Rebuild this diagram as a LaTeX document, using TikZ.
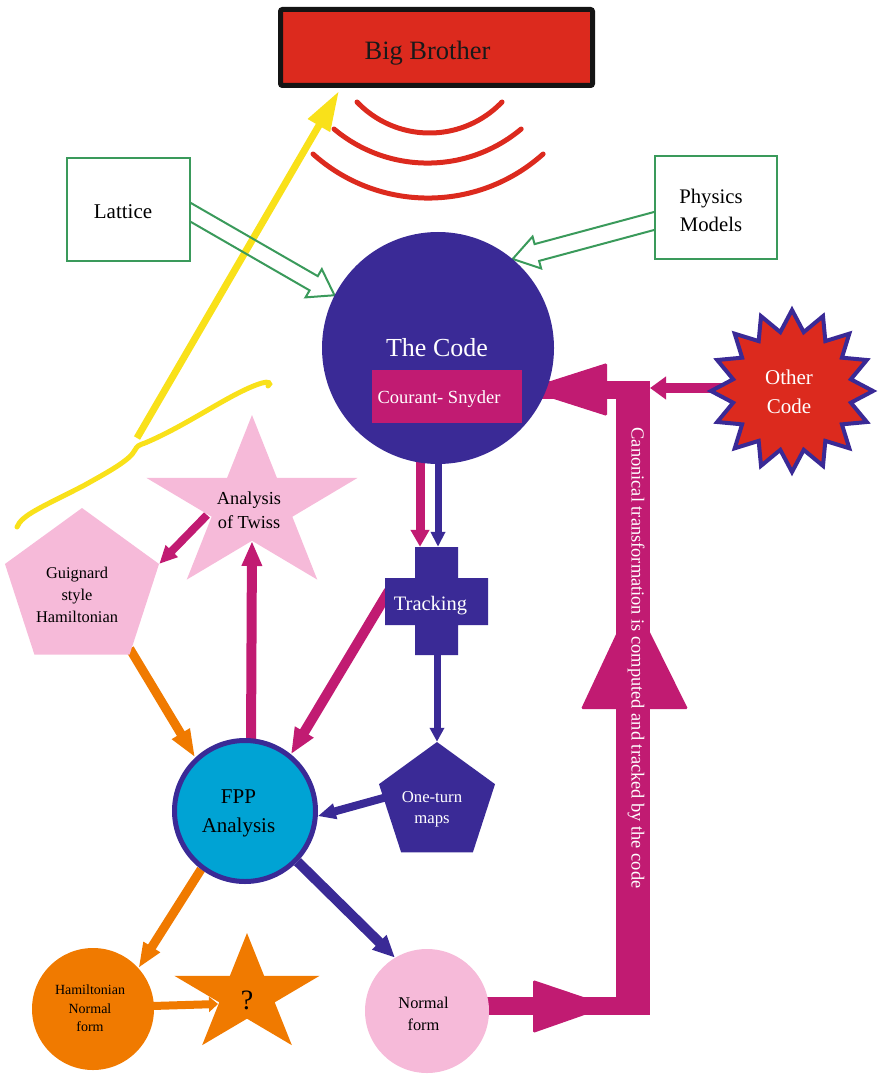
\documentclass[tikz,border=0pt]{standalone}
\usepackage{fontspec}
\setmainfont{Liberation Serif}
\usetikzlibrary{shapes.geometric, arrows.meta, calc}
\pgfdeclarelayer{bg}
\pgfsetlayers{bg,main}
\definecolor{bbred}{HTML}{DC2A1E}
\definecolor{ind}{HTML}{3A2A96}
\definecolor{mag}{HTML}{C11B72}
\definecolor{pinkc}{HTML}{F6BAD9}
\definecolor{orng}{HTML}{F07A00}
\definecolor{cyanc}{HTML}{00A3D4}
\definecolor{grn}{HTML}{3A9A5B}
\definecolor{yel}{HTML}{F9E11A}
\newcommand\fsz[2]{\fontsize{#1}{#2}\selectfont}
% hollow arrow: start, end, half width, head length, head half width
\newcommand\hollowarrow[5]{%
  \coordinate (habase) at ($(#2)!#4!(#1)$);
  \draw[hollow] ($(#1)!#3!90:(#2)$) -- ($(habase)!#3!-90:(#1)$) -- ($(habase)!#5!-90:(#1)$) -- (#2)
     -- ($(habase)!#5!90:(#1)$) -- ($(habase)!#3!90:(#1)$) -- ($(#1)!#3!-90:(#2)$) -- cycle;}
\begin{document}
\begin{tikzpicture}[x=1pt,y=-1pt,
  txt/.style={align=center, inner sep=0pt, outer sep=0pt, text=black},
  wtxt/.style={txt, text=white},
  gbox/.style={draw=grn, line width=2pt, fill=white, inner sep=0pt},
  hollow/.style={draw=grn, line width=2pt, line join=miter},
  arr/.style n args={4}{draw=#1, line width=#2, -{Triangle[length=#3, width=#4]}},
  pent/.style={regular polygon, regular polygon sides=5, inner sep=0pt},
  pstar/.style={star, star points=5, star point ratio=2.618, inner sep=0pt, transform shape},
  wave/.style={draw=bbred, line width=5pt, line cap=round},
  bighead/.style={fill=mag, rounded corners=1.5pt},
]
\useasboundingbox (0,0) rectangle (879,1075);

% ---------- nodes ----------
\node[draw=black!92, line width=5pt, fill=bbred, rounded corners=2pt, minimum width=312pt, minimum height=76pt, inner sep=0pt] (bb) at (436.5,47.5) {};
\node[txt, anchor=base, font=\fsz{26.5}{30}, text=black!90] (bbtxt) at (427.5,60) {Big Brother};

\node[gbox, minimum width=123pt, minimum height=103pt] (lat) at (128.5,209.5) {};
\node[txt, anchor=base, font=\fsz{21}{24}] (lattxt) at (123,219) {Lattice};
\node[gbox, minimum width=122pt, minimum height=103pt] (phys) at (716,207.5) {};
\node[txt, font=\fsz{20.7}{28}] (phystxt) at (711,210) {Physics\\Models};

\node[circle, fill=ind, minimum size=232pt, inner sep=0pt] (code) at (438,348) {};
\node[wtxt, anchor=base, font=\fsz{26}{30}] (codetxt) at (437,356) {The Code};
\node[fill=mag, minimum width=150pt, minimum height=53pt, inner sep=0pt] (cs) at (447,396.5) {};
\node[wtxt, anchor=base, font=\fsz{18.5}{22}] (cstxt) at (439,403) {Courant- Snyder};

\node[star, star points=16, star point ratio=1.35, minimum size=162pt, inner sep=0pt, fill=bbred, draw=ind, line width=4pt] (other) at (792,391) {};
\node[wtxt, font=\fsz{21}{29}] (othertxt) at (789,392) {Other\\Code};

\node[minimum width=103pt, minimum height=108pt, inner sep=0pt] (tracking) at (436.5,601) {};
\fill[ind] (415,547) -- (458,547) -- (458,578) -- (488,578) -- (488,625) -- (458,625) -- (458,655)
  -- (415,655) -- (415,625) -- (385,625) -- (385,578) -- (415,578) -- cycle;
\node[wtxt, anchor=base, font=\fsz{20.5}{24}] (tracktxt) at (430.5,610) {Tracking};

\begin{scope}[shift={(252,506)}, xscale=1.22]
\node[pstar, fill=pinkc, minimum size=182pt] (twiss) at (0,0) {};
\end{scope}
\node[txt, font=\fsz{18.3}{24}] (twisstxt) at (249,510) {Analysis\\of Twiss};

\node[pent, fill=pinkc, minimum size=162pt] (guig) at (82,589) {};
\node[txt, font=\fsz{16.4}{22}] (guigtxt) at (77,595) {Guignard\\style\\Hamiltonian};

\node[circle, fill=cyanc, draw=ind, line width=5pt, minimum size=141pt, inner sep=0pt] (fpp) at (245,811) {};
\node[txt, font=\fsz{21}{29}] (fpptxt) at (238.5,813) {FPP\\Analysis};

\node[pent, fill=ind, minimum size=122pt] (ot) at (437,803) {};
\node[wtxt, font=\fsz{16.7}{21}] (ottxt) at (432,809) {One-turn\\maps};

\node[circle, fill=orng, minimum size=122pt, inner sep=0pt] (hnf) at (93,1009) {};
\node[txt, font=\fsz{14}{18.5}] (hnftxt) at (90,1008.5) {Hamiltonian\\Normal\\form};

\begin{scope}[shift={(247,995)}, xscale=1.23]
\node[pstar, fill=orng, minimum size=124pt] (q) at (0,0) {};
\end{scope}
\node[txt, font=\fsz{28}{30}] (qtxt) at (247,1000) {?};

\node[circle, fill=pinkc, minimum size=124pt, inner sep=0pt] (nf) at (427,1011) {};
\node[txt, font=\fsz{16.4}{22}] (nftxt) at (423.5,1013.5) {Normal\\form};

\node[wtxt, rotate=-90, font=\fsz{18.4}{22}] (canon) at (636,658) {Canonical transformation is computed and tracked by the code};

% red waves (circular arcs)
\draw[wave] (357,102) arc[start angle=136.3, end angle=43.7, radius=100.3];
\draw[wave] (334,129) arc[start angle=130, end angle=50, radius=145.6];
\draw[wave] (313,154) arc[start angle=131.9, end angle=48.1, radius=172.3];

% ---------- connectors ----------
\coordinate (ctop) at (650,389.5);
\coordinate (cbot) at (650,1006);
\coordinate (vtop) at (633,381);
\coordinate (vbot) at (633,1015);
\coordinate (ystart) at (137,438);
\coordinate (latS) at (184,208.5);
\coordinate (physS) at (660,219.4);

\begin{pgfonlayer}{bg}
\draw[draw=yel, line width=5pt, line cap=round] (17,527) .. controls (22,515) and (40,508) .. (83,486)
  .. controls (110,471) and (130,460) .. (135,450)
  .. controls (137,446) and (139,445) .. (145,443) .. controls (190,424) and (232,392) .. (262,383)
  .. controls (268,381) and (272,383) .. (268,386);
\draw[arr={yel}{7pt}{40pt}{24pt}] (ystart) -- ($(bb.south west)+(61,3)$);

\hollowarrow{latS}{code.153}{8.2pt}{24pt}{16.3pt}
\hollowarrow{physS}{code.50}{8.7pt}{25pt}{16.5pt}

\draw[mag, line width=18pt] ($(cs.east)+(0,-7)$) -- (ctop);
\draw[mag, line width=34pt] (vtop) -- (vbot);
\draw[mag, line width=18pt] ($(nf.east)+(-4,-5)$) -- (cbot);
\fill[bighead] ($(cs.east)+(2,-7)$) -- (607,363) -- (607,416) -- cycle;
\fill[bighead] (610,1006) -- (533,980) -- (533,1033) -- cycle;
\fill[bighead] (633,598) -- (581,709) -- (688,709) -- cycle;
\draw[arr={mag}{10pt}{16pt}{22pt}] ($(other.center)+(0,-3)$) -- ($(ctop)+(0,-1.5)$);

\draw[arr={mag}{9pt}{17pt}{18pt}] ($(cs.south)+(-27,-2)$) -- ($(tracking.north)+(-16.5,0)$);
\draw[arr={ind}{7pt}{15pt}{14pt}] ($(code.south)+(0,-2)$) -- ($(tracking.north)+(1.5,0)$);
\draw[arr={mag}{10pt}{26pt}{20pt}] ($(tracking.west)+(4,-10)$) -- (fpp.51);
\draw[arr={ind}{7pt}{14pt}{14pt}] ($(tracking.south)+(0.5,-3)$) -- (ot.corner 1);
\draw[arr={ind}{8pt}{18pt}{15pt}] ($(ot.center)+(-50,-6)$) -- (fpp.-4);
\draw[arr={mag}{10pt}{25pt}{19pt}] ($(fpp.north)+(6,6)$) -- ($(twiss.center)+(0,35)$);
\draw[arr={mag}{8pt}{18pt}{16pt}] ($(twiss.center)+(-45,9)$) -- (guig.corner 5);
\draw[arr={orng}{9pt}{28pt}{19pt}] ($(guig.corner 4)+(0,-6)$) -- (fpp.133);
\draw[arr={orng}{9pt}{25pt}{18pt}] (fpp.-127) -- (hnf.42);
\draw[arr={ind}{10pt}{22pt}{19pt}] (fpp.-44) -- (nf.121);
\draw[arr={orng}{8pt}{9pt}{15pt}] ($(hnf.east)+(-2,-3)$) -- ($(q.center)+(-29,9)$);
\end{pgfonlayer}
\end{tikzpicture}
\end{document}
